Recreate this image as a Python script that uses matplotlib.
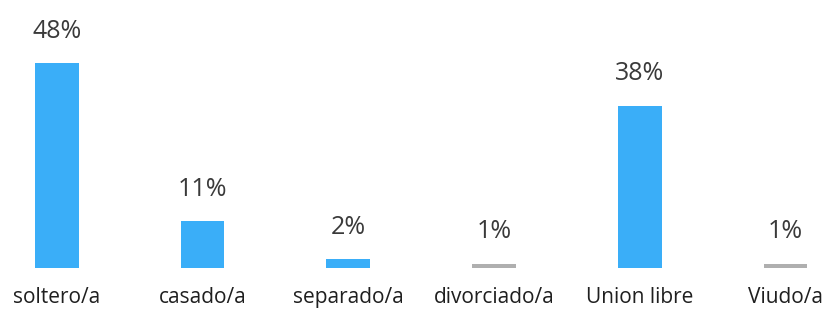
import matplotlib
matplotlib.use("Agg")
import matplotlib.pyplot as plt

categories = ["soltero/a", "casado/a", "separado/a", "divorciado/a", "Union libre", "Viudo/a"]
values = [48, 11, 2, 1, 38, 1]
labels = ["48%", "11%", "2%", "1%", "38%", "1%"]

plt.rcParams['font.family'] = ['Open Sans', 'DejaVu Sans']

fig = plt.figure(figsize=(8.22, 3.12), dpi=100)
ax = fig.add_axes([0, 44/312, 1, 268/312])

colors = ["#3AAEF8" if v > 1 else "#AFAFAF" for v in values]
bars = ax.bar(range(len(categories)), values, width=0.3, color=colors)
ax.set_xlim(-0.39, 5.25)
ax.set_ylim(0, 62.8)

for b, lab in zip(bars, labels):
    ax.annotate(lab, (b.get_x() + b.get_width() / 2, b.get_height()),
                xytext=(0, 23), textcoords="offset points",
                ha="center", va="center", fontsize=18, color="#3A3A3A")

ax.set_xticks(range(len(categories)))
ax.set_xticklabels(categories, fontsize=15, color="#1F1F1F")
ax.tick_params(axis="x", length=0, pad=14)
ax.set_yticks([])
for s in ax.spines.values():
    s.set_visible(False)

fig.savefig("out.png", dpi=100)
